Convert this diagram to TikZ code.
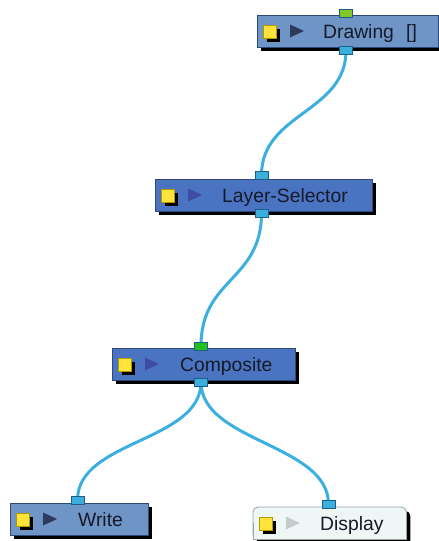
\documentclass[tikz,border=0pt]{standalone}
\usepackage{fontspec}
\setmainfont{Liberation Sans}
\usetikzlibrary{shadows,calc}
\definecolor{lightmod}{HTML}{6F94C6}
\definecolor{darkmod}{HTML}{4A74C2}
\definecolor{modborder}{HTML}{2F4A78}
\definecolor{dispfill}{HTML}{EEF6F6}
\definecolor{dispborder}{HTML}{9AA4A4}
\definecolor{iconyellow}{HTML}{FFE33A}
\definecolor{iconyborder}{HTML}{B09A00}
\definecolor{tridark}{HTML}{2C3A5E}
\definecolor{trimid}{HTML}{3F4DA0}
\definecolor{trilight}{HTML}{C4CCCC}
\definecolor{portgreenA}{HTML}{80C828}
\definecolor{portgreenB}{HTML}{20C020}
\definecolor{portblue}{HTML}{3AAEDC}
\definecolor{portborder}{HTML}{1F5F85}
\definecolor{cablecol}{HTML}{3BB0E0}
\definecolor{txtcol}{HTML}{141A28}
\pgfdeclarelayer{cables}
\pgfsetlayers{cables,main}
\begin{document}
\begin{tikzpicture}[x=1pt,y=-1pt,
  modbox/.style={rectangle, draw=modborder, line width=0.8pt, minimum height=32pt,
    anchor=north west, inner sep=0pt,
    drop shadow={fill=black, opacity=1, shadow xshift=4pt, shadow yshift=-4pt}},
  icon/.style={rectangle, fill=iconyellow, draw=iconyborder, line width=0.6pt,
    minimum size=12.5pt, inner sep=0pt, anchor=north west,
    drop shadow={fill=black, opacity=1, shadow xshift=4pt, shadow yshift=-4pt}},
  port/.style={rectangle, draw=portborder, line width=0.6pt, minimum width=13pt,
    minimum height=8pt, inner sep=0pt},
  modtext/.style={anchor=base west, inner sep=0pt, text=txtcol,
    font=\fontsize{19.3}{19.3}\selectfont},
  cable/.style={draw=cablecol, line width=3pt}]
\useasboundingbox (0,0) rectangle (439,541);
\clip (0,0) rectangle (439,541);

% Drawing
\node[modbox, fill=lightmod, minimum width=181pt] (drw) at (257,15) {};
\node[icon] (drwicon) at (263,25) {};
\fill[tridark] (290,24.5) -- (304,31) -- (290,37.5) -- cycle;
\node[modtext] (drwtxt) at (323,38) {Drawing};
\node[modtext] (drwbr) at (406,38) {[]};
\node[port, fill=portgreenA] (drwin) at (346,13) {};
\node[port, fill=portblue] (drwout) at (346,50.5) {};

% Layer-Selector
\node[modbox, fill=darkmod, minimum width=217pt] (lsel) at (155,179) {};
\node[icon] (lselicon) at (161,189) {};
\fill[trimid] (188,188.5) -- (202,195) -- (188,201.5) -- cycle;
\node[modtext] (lseltxt) at (222,202) {Layer-Selector};
\node[port, fill=portblue] (lselin) at (261.5,175) {};
\node[port, fill=portblue] (lselout) at (261.5,213) {};

% Composite
\node[modbox, fill=darkmod, minimum width=183pt] (comp) at (112,348) {};
\node[icon] (compicon) at (118,358) {};
\fill[trimid] (145,357.5) -- (159,364) -- (145,370.5) -- cycle;
\node[modtext] (comptxt) at (180,371) {Composite};
\node[port, fill=portgreenB] (compin) at (201,346) {};
\node[port, fill=portblue] (compout) at (201,382) {};

% Write
\node[modbox, fill=lightmod, minimum width=138pt] (wrt) at (10,503) {};
\node[icon] (wrticon) at (16,513) {};
\fill[tridark] (43,512.5) -- (57,519) -- (43,525.5) -- cycle;
\node[modtext] (wrttxt) at (78,526) {Write};
\node[port, fill=portblue] (wrtin) at (77.5,500) {};

% Display
\node[rectangle, minimum width=153pt, minimum height=32pt, anchor=north west,
  inner sep=0pt] (disp) at (253,507) {};
\fill[black, rounded corners=5pt] ($(disp.north west)+(4,4)$) rectangle ($(disp.south east)+(4,8)$);
\filldraw[fill=dispfill, draw=dispborder, line width=0.8pt, rounded corners=5pt]
  (disp.north west) rectangle (disp.south east);
\fill[dispfill] ($(disp.west)+(0.5,0)$) rectangle ($(disp.south east)+(-0.5,-0.5)$);
\draw[dispborder, line width=0.8pt] (disp.west) -- (disp.south west) -- (disp.south east) -- (disp.east);
\node[icon] (dispicon) at (259,517) {};
\fill[trilight] (286,516.5) -- (300,523) -- (286,529.5) -- cycle;
\node[modtext] (disptxt) at (320,530) {Display};
\node[port, fill=portblue] (dispin) at (328.5,504) {};

% cables
\begin{pgfonlayer}{cables}
\draw[cable] (drwout.center) .. controls +(0,62) and +(0,-62) .. (lselin.center);
\draw[cable] (lselout.center) .. controls +(0,68) and +(0,-68) .. (compin.center);
\draw[cable] (compout.center) .. controls +(0,60) and +(0,-60) .. (wrtin.center);
\draw[cable] (compout.center) .. controls +(0,60) and +(0,-60) .. (dispin.center);
\end{pgfonlayer}
\end{tikzpicture}
\end{document}
